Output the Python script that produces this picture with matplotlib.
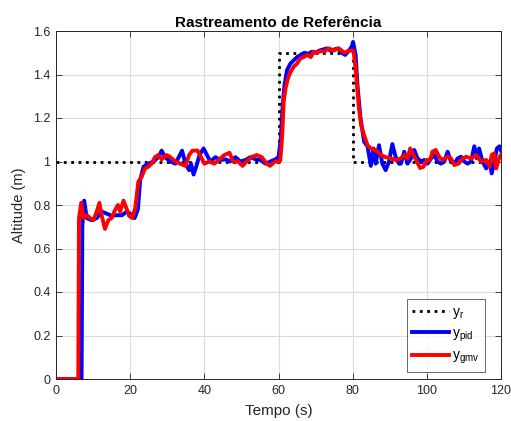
import matplotlib
matplotlib.use("Agg")
import matplotlib.pyplot as plt

# reference signal
t_ref = [0, 60, 60, 80, 80, 120]
y_ref = [1, 1, 1.5, 1.5, 1, 1]

# PID response
t_pid = [0, 6.9, 7.1, 7.6, 8.3, 9.6, 11.0, 12.3, 13.7, 15.0, 16.4, 17.8, 19.1, 20.0, 21.2,
         22.1, 22.7, 23.6, 24.9, 26.3, 27.6, 28.5, 29.4, 30.8, 32.2, 33.1, 34.0, 34.9,
         35.9, 36.4, 37.1, 37.8, 38.7, 39.8, 40.7, 41.6, 43.0, 44.3, 45.7, 47.0, 48.4,
         49.7, 51.1, 52.4, 53.8, 55.1, 56.5, 57.8, 59.2, 60.0, 60.6, 61.1, 61.6, 62.3,
         63.2, 64.1, 65.0, 66.0, 67.0, 68.0, 69.0, 70.0, 71.0, 72.0, 73.0, 74.0, 75.0,
         76.0, 77.0, 78.0, 79.0, 79.8, 80.1, 80.8, 81.3, 82.1, 83.1, 84.0, 84.9, 85.6,
         86.2, 87.1, 88.0, 88.9, 89.8, 90.7, 91.6, 92.5, 93.0, 93.9, 94.8, 95.7, 96.6,
         97.5, 98.4, 99.3, 100.2, 101.1, 102.0, 102.9, 103.8, 104.7, 105.6, 106.5, 107.4,
         108.3, 109.2, 110.1, 111.0, 111.9, 112.8, 113.5, 114.1, 115.0, 116.0, 116.9,
         117.5, 118.2, 118.9, 119.6, 120.0]
y_pid = [0, 0, 0.70, 0.82, 0.74, 0.73, 0.74, 0.77, 0.76, 0.75, 0.753, 0.753, 0.77, 0.76,
         0.74, 0.78, 0.915, 0.976, 0.99, 1.0, 1.02, 1.05, 1.02, 1.0, 0.99, 1.02, 1.05, 0.99,
         0.96, 0.99, 0.94, 0.976, 1.03, 1.06, 1.03, 1.0, 1.02, 1.007, 1.01, 1.0, 1.02,
         1.0, 1.007, 1.02, 1.01, 1.007, 0.99, 1.0, 1.01, 1.02, 1.1, 1.25, 1.35, 1.42,
         1.45, 1.465, 1.48, 1.49, 1.50, 1.495, 1.505, 1.50, 1.51, 1.515, 1.52, 1.51, 1.515,
         1.52, 1.50, 1.49, 1.51, 1.53, 1.55, 1.49, 1.35, 1.2, 1.09, 1.07, 0.98, 1.06,
         0.99, 1.075, 0.99, 0.96, 1.0, 1.08, 1.02, 0.99, 0.99, 1.045, 0.99, 1.014, 1.053,
         1.014, 1.0, 1.007, 0.99, 1.014, 1.03, 1.0, 0.99, 1.0, 1.045, 1.0, 0.99,
         1.014, 1.022, 1.0, 0.99, 1.0, 1.07, 1.014, 1.06, 1.0, 0.968, 1.0,
         0.945, 1.0, 1.06, 1.07, 1.05]

# GMV response
t_gmv = [0, 6.0, 6.2, 6.8, 7.4, 8.3, 9.2, 10.1, 11.0, 11.7, 12.3, 13.2, 14.1, 15.0, 15.9,
         16.7, 17.3, 18.2, 19.1, 19.7, 20.6, 21.4, 22.2, 23.1, 24.0, 24.9, 25.8, 26.7,
         27.6, 28.5, 29.9, 30.8, 32.2, 33.5, 34.9, 35.9, 36.8, 38.2, 39.1, 40.0, 41.4,
         42.7, 44.1, 45.4, 46.8, 47.7, 49.1, 50.3, 51.4, 52.7, 54.1, 55.5, 56.8, 57.7,
         59.1, 60.3, 60.5, 61.0, 61.4, 61.9, 62.5, 63.2, 64.1, 65.0, 65.9, 66.8, 67.7,
         68.7, 69.5, 70.4, 71.3, 72.2, 73.6, 74.9, 76.3, 77.7, 79.0, 80.2, 80.8, 81.3,
         81.7, 82.3, 83.1, 84.0, 84.9, 86.2, 87.6, 88.9, 90.3, 91.6, 93.0, 93.9, 94.8,
         95.5, 96.4, 97.3, 98.2, 99.1, 100.0, 100.9, 101.5, 102.4, 103.3, 104.2, 105.6,
         106.5, 107.4, 108.5, 109.7, 110.6, 111.9, 113.3, 114.6, 116.0, 116.9, 117.5,
         118.1, 118.7, 119.6, 120.0]
y_gmv = [0, 0, 0.74, 0.81, 0.74, 0.753, 0.74, 0.73, 0.77, 0.81, 0.753, 0.69, 0.73, 0.74,
         0.776, 0.80, 0.77, 0.82, 0.78, 0.75, 0.74, 0.79, 0.907, 0.93, 0.968, 0.976, 0.99,
         1.02, 1.03, 1.01, 1.03, 1.02, 1.0, 0.99, 0.98, 1.03, 1.05, 1.05, 1.02, 0.99, 1.0,
         0.99, 1.01, 1.03, 1.04, 1.0, 1.0, 0.98, 1.0, 1.02, 1.03, 1.02, 0.99, 0.98,
         1.0, 1.0, 1.007, 1.12, 1.275, 1.336, 1.38, 1.41, 1.436, 1.45, 1.474, 1.48, 1.49,
         1.48, 1.505, 1.50, 1.508, 1.505, 1.52, 1.51, 1.52, 1.50, 1.51, 1.51, 1.43, 1.32,
         1.245, 1.167, 1.12, 1.075, 1.06, 1.053, 1.03, 1.02, 1.014, 1.007, 1.014, 1.03, 1.014,
         1.06, 1.03, 1.0, 0.97, 0.976, 1.007, 1.007, 1.045, 1.053, 1.022, 1.007, 1.022,
         1.014, 0.984, 0.99, 1.014, 1.022, 1.014, 1.03, 1.0, 1.007, 0.976, 1.03,
         1.037, 0.968, 1.022, 1.03]

x_ticks = [0, 20, 40, 60, 80, 100, 120]
y_ticks = [0, 0.2, 0.4, 0.6, 0.8, 1.0, 1.2, 1.4, 1.6]
y_tick_labels = ["0", "0.2", "0.4", "0.6", "0.8", "1", "1.2", "1.4", "1.6"]

plt.rcParams["font.family"] = ["Liberation Sans", "DejaVu Sans"]
plt.rcParams["mathtext.fontset"] = "custom"
plt.rcParams["mathtext.rm"] = "Liberation Sans"

fig = plt.figure(figsize=(5.11, 4.21), dpi=100)
ax = fig.add_axes([56 / 511, 42 / 421, 445 / 511, 348 / 421])

ax.plot(t_ref, y_ref, color="black", ls=":", lw=2.0, label=r"y$_\mathrm{r}$")
ax.plot(t_pid, y_pid, color="#0000ff", lw=2.8, label=r"y$_\mathrm{pid}$")
ax.plot(t_gmv, y_gmv, color="#ff0000", lw=2.8, label=r"y$_\mathrm{gmv}$")

ax.set_xlim(0, 120)
ax.set_ylim(0, 1.6)
ax.set_xticks(x_ticks)
ax.set_yticks(y_ticks)
ax.set_yticklabels(y_tick_labels)
ax.grid(True, color="#dcdcdc", lw=0.8)
ax.set_axisbelow(True)
ax.tick_params(direction="in", top=True, right=True, length=4, width=0.6,
               colors="#262626", labelsize=9, pad=4)
for s in ax.spines.values():
    s.set_color("#262626")
    s.set_linewidth(0.7)

ax.set_xlabel("Tempo (s)", fontsize=11, color="#262626", labelpad=5)
ax.set_ylabel("Altitude (m)", fontsize=10.5, color="#262626", labelpad=5)
ax.set_title("Rastreamento de Referência", fontsize=11, fontweight="bold", pad=3)

leg = ax.legend(loc="lower right", bbox_to_anchor=(0.964, 0.02), fontsize=10,
                handlelength=2.6, frameon=True, fancybox=False, edgecolor="#262626",
                borderaxespad=0, labelspacing=0.4, handletextpad=0.25, borderpad=0.4)
leg.get_frame().set_linewidth(0.6)

fig.savefig("out.png", dpi=100)
